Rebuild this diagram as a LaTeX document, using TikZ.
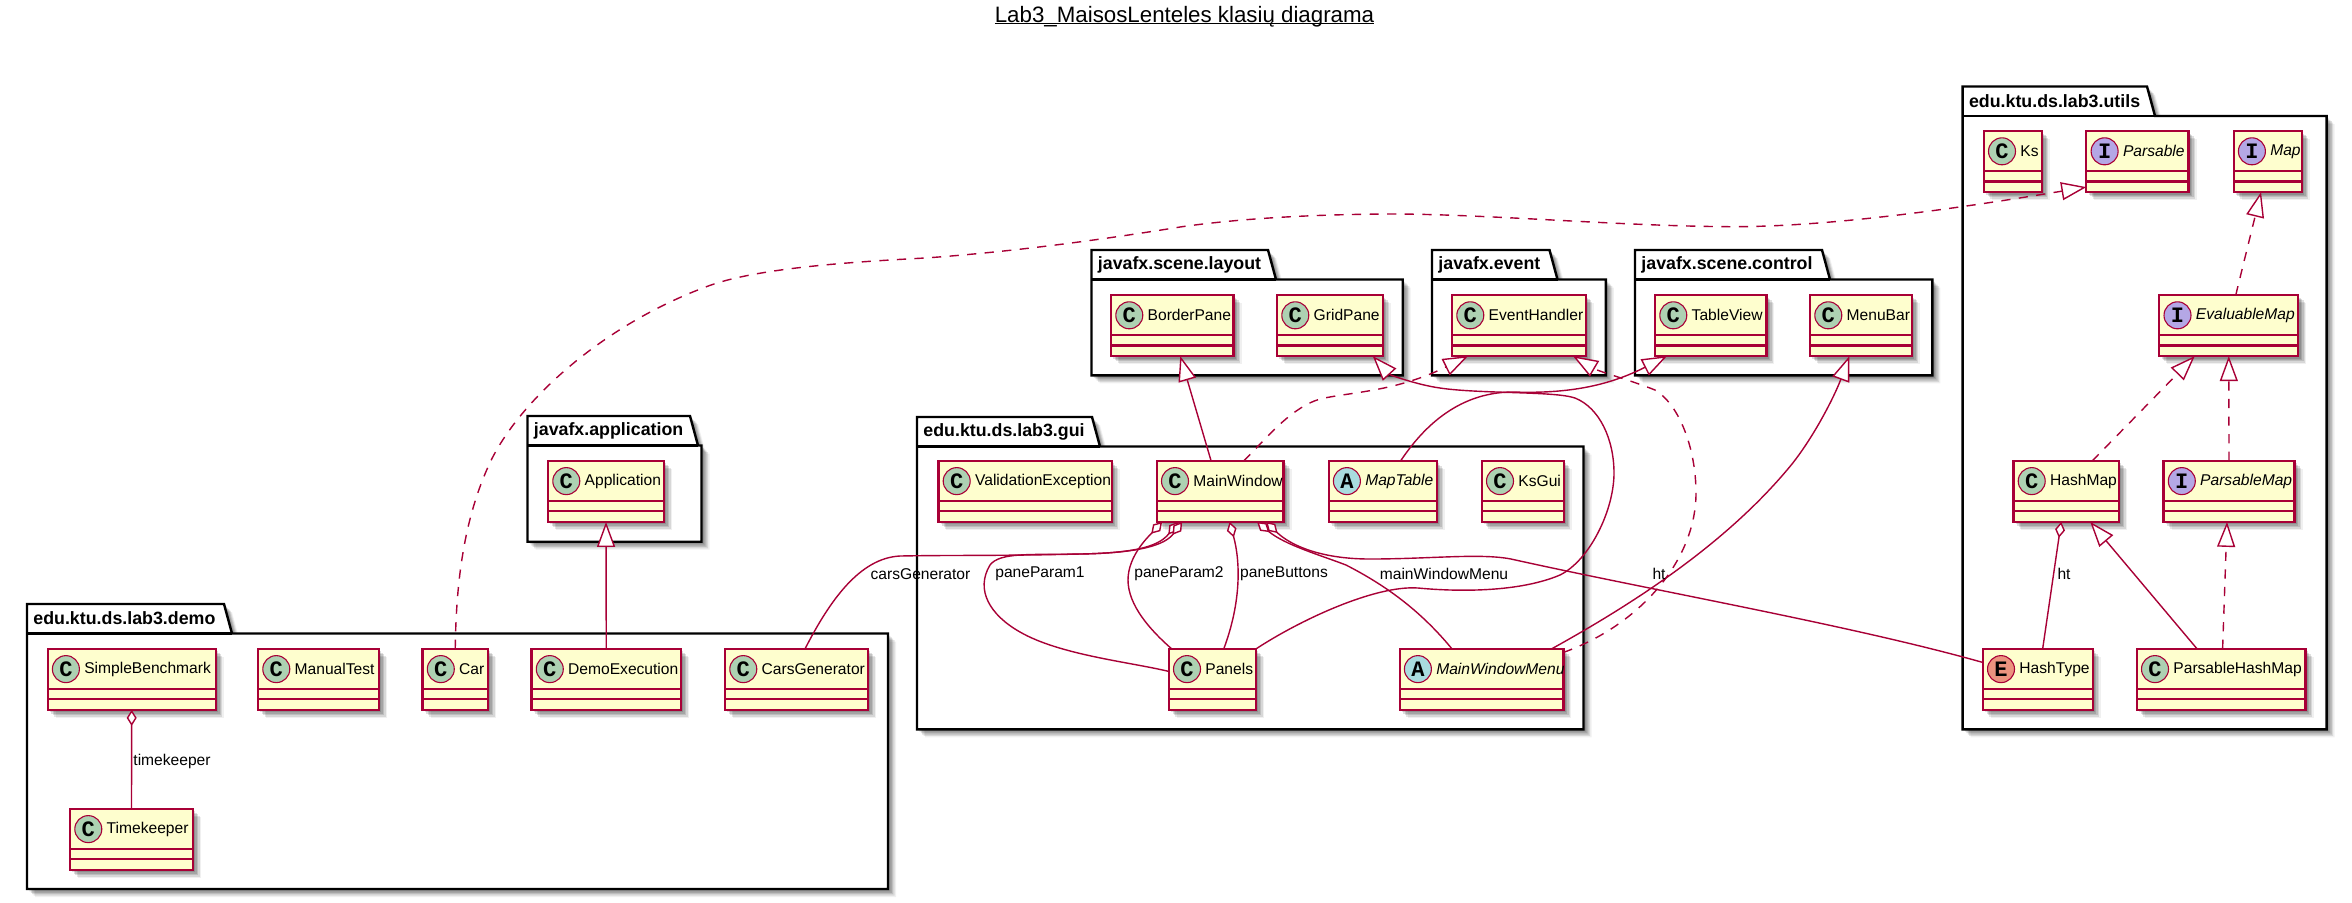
\documentclass[tikz,border=0pt]{standalone}
\usepackage{fontspec}
\setmainfont{Liberation Sans}
\newfontfamily\spotfont{Liberation Mono}
\usepackage{xcolor}
\usepackage{tikz}
\usetikzlibrary{arrows.meta, calc, shadows}
\definecolor{umlred}{HTML}{A80036}
\definecolor{umlfill}{HTML}{FEFECE}
\definecolor{spotgreen}{HTML}{ADD1B2}
\definecolor{spotpurple}{HTML}{B4A7E5}
\definecolor{spotblue}{HTML}{A9DCDF}
\definecolor{spotorange}{HTML}{EB937F}

\tikzset{
  softshadow/.style={
    general shadow={fill=black,opacity=.13,shadow xshift=1.2pt,shadow yshift=-1.2pt},
    general shadow={fill=black,opacity=.13,shadow xshift=1.9pt,shadow yshift=-1.9pt},
    general shadow={fill=black,opacity=.12,shadow xshift=2.6pt,shadow yshift=-2.6pt},
    general shadow={fill=black,opacity=.10,shadow xshift=3.3pt,shadow yshift=-3.3pt},
    general shadow={fill=black,opacity=.06,shadow xshift=4pt,shadow yshift=-4pt}},
  umlbox/.style={draw=umlred, fill=umlfill, line width=1.1pt, inner sep=0pt, outer sep=0pt,
                 minimum height=30.5pt, softshadow},
  umlbar/.style={draw=umlred, line width=1.1pt},
  umlpkg/.style={draw=black, fill=white, line width=1.2pt, softshadow},
  pkgbar/.style={draw=black, line width=1.2pt},
  pkgtext/.style={font=\bfseries\fontsize{8.9}{10}\selectfont, anchor=west, inner sep=0pt},
  classtext/.style={font=\fontsize{7.8}{9}\selectfont, anchor=west, inner sep=0pt},
  edgetext/.style={font=\fontsize{7.8}{9}\selectfont, inner sep=0pt},
  spotmark/.style={circle, draw=umlred, line width=.55pt, minimum size=13.5pt, inner sep=0pt,
                   font=\spotfont\bfseries\fontsize{11}{11}\selectfont},
  spot C/.style={fill=spotgreen},
  spot I/.style={fill=spotpurple},
  spot A/.style={fill=spotblue},
  spot E/.style={fill=spotorange},
  shape C/.style={},
  shape I/.style={font=\itshape\fontsize{7.8}{9}\selectfont},
  shape A/.style={font=\itshape\fontsize{7.8}{9}\selectfont},
  shape E/.style={},
  extendsline/.style={draw=umlred, line width=.7pt, -{Triangle[length=12.5pt,width=9pt,fill=white]}},
  implementsline/.style={extendsline, dash pattern=on 4.6pt off 4.2pt},
  ownsline/.style={draw=umlred, line width=.7pt, {Diamond[length=8pt,width=5pt,fill=white]}-},
}

\newcommand{\umlclass}[5]{
  \node[umlbox, minimum width={(#4-#3)*0.5pt}] (#2) at ({(#3+#4)/2},{#5+30.4}) {};
  \draw[umlbar] ($(#2.north west)+(0,40.2)$) -- ($(#2.north east)+(0,40.2)$);
  \draw[umlbar] ($(#2.north west)+(0,50.3)$) -- ($(#2.north east)+(0,50.3)$);
  \node[spotmark, spot #1] (#2spot) at ($(#2.north west)+(18.3,20.2)$) {#1};
  \node[classtext, shape #1] (#2text) at ($(#2.north west)+(36.3,20.2)$) {#2};
}
\newcommand{\umlpackage}[7]{
  \draw[umlpkg] (#2,{#4+29.5}) -- (#2,#4) -- (#6,#4) -- ({#6+8},{#4+29.5}) -- (#3,{#4+29.5})
    -- (#3,#5) -- (#2,#5) -- cycle;
  \draw[pkgbar] (#2,{#4+29.5}) -- ({#6+8},{#4+29.5});
  \node[pkgtext] (#1) at ({#2+6},{#4+14.5}) {#7};
}
\newcommand{\titleline}[1]{\sbox0{#1}\rlap{\rule[-1.1pt]{\wd0}{.65pt}}\box0}

\begin{document}
\begin{tikzpicture}[x=0.5pt, y=-0.5pt]
  \useasboundingbox (0,0) rectangle (2352,902);

  \node[font=\fontsize{11.15}{12}\selectfont, inner sep=0pt, anchor=base] (diagramtitle) at (1184.5,22)
    {\titleline{Lab3\_MaisosLenteles klasių diagrama}};

  \umlpackage{pkgdemo}{27}{888}{604}{889}{224}{edu.ktu.ds.lab3.demo}
  \umlpackage{pkgapplication}{527.5}{701.5}{416}{541.7}{690}{javafx.application}
  \umlpackage{pkglayout}{1091.5}{1402.7}{250}{375.4}{1268}{javafx.scene.layout}
  \umlpackage{pkgevent}{1432}{1605.8}{250}{375.4}{1549.5}{javafx.event}
  \umlpackage{pkgcontrol}{1635}{1932.4}{250}{375.4}{1822}{javafx.scene.control}
  \umlpackage{pkggui}{917}{1583.5}{417}{729.3}{1092}{edu.ktu.ds.lab3.gui}
  \umlpackage{pkgutils}{1962.6}{2326.6}{86.5}{729.3}{2147}{edu.ktu.ds.lab3.utils}

  \umlclass{C}{SimpleBenchmark}{47.6}{215.8}{649}
  \umlclass{C}{ManualTest}{258}{379}{649}
  \umlclass{C}{Car}{422.5}{488}{649}
  \umlclass{C}{DemoExecution}{531.5}{681}{649}
  \umlclass{C}{CarsGenerator}{725}{868}{649}
  \umlclass{C}{Timekeeper}{70}{193}{809}
  \umlclass{C}{Application}{548}{664}{461}

  \umlclass{C}{BorderPane}{1111}{1233.5}{295.2}
  \umlclass{C}{GridPane}{1277}{1382.6}{295.2}
  \umlclass{C}{EventHandler}{1452}{1585.7}{295.2}
  \umlclass{C}{TableView}{1655}{1766.4}{295.2}
  \umlclass{C}{MenuBar}{1810}{1911.8}{295.2}

  \umlclass{C}{ValidationException}{938.4}{1111.6}{461}
  \umlclass{C}{MainWindow}{1156.7}{1283.5}{461}
  \umlclass{A}{MapTable}{1328.6}{1436.6}{461}
  \umlclass{C}{KsGui}{1481.7}{1563.8}{461}
  \umlclass{C}{Panels}{1168.7}{1256}{649}
  \umlclass{A}{MainWindowMenu}{1399.6}{1563.4}{649}

  \umlclass{C}{Ks}{1983.7}{2041.7}{131.2}
  \umlclass{I}{Parsable}{2086.3}{2188.5}{131.2}
  \umlclass{I}{Map}{2233.6}{2301.7}{131.2}
  \umlclass{I}{EvaluableMap}{2159.2}{2298.3}{295.2}
  \umlclass{C}{HashMap}{2013.4}{2119}{461}
  \umlclass{I}{ParsableMap}{2163.5}{2294.5}{461}
  \umlclass{E}{HashType}{1982.7}{2092.6}{649}
  \umlclass{C}{ParsableHashMap}{2136.7}{2305.5}{649}

  \draw[extendsline] (DemoExecution.north) -- (Application.south);
  \draw[implementsline] (Car.north) .. controls (456,590) and (462,525) .. (488,467)
    .. controls (515,405) and (600,325) .. (711,285)
    .. controls (760,268) and (850,262) .. (925,258)
    .. controls (1010,252) and (1100,240) .. (1180,227)
    .. controls (1250,217) and (1330,214) .. (1400,214)
    .. controls (1500,215) and (1620,226) .. (1730,226.7)
    .. controls (1830,227) and (1960,208) .. ($(Parsable.south west)+(0,-5)$);
  \draw[ownsline] (SimpleBenchmark.south) -- (Timekeeper.north);

  \draw[extendsline] ($(MainWindow.north)+(-9,0)$) -- ($(BorderPane.south)+(8,0)$);
  \draw[extendsline] (Panels.north east) .. controls (1300,620) and (1375,585) .. (1418,588)
    .. controls (1460,592) and (1520,592) .. (1560,575)
    .. controls (1590,560) and (1614,510) .. (1614,473)
    .. controls (1614,440) and (1600,408) .. (1575,398)
    .. controls (1555,391) and (1480,394) .. (1440,388)
    .. controls (1418,385) and (1390,375) .. ($(GridPane.south)+(43,0)$);
  \draw[implementsline] ($(MainWindow.north)+(23.6,0)$) .. controls (1265,440) and (1290,408) .. (1320,399)
    .. controls (1350,392) and (1395,392) .. ($(EventHandler.south)+(-50.8,0)$);
  \draw[implementsline] ($(MainWindowMenu.east)+(0,-27)$) .. controls (1640,625) and (1696,560) .. (1696,493)
    .. controls (1696,450) and (1680,405) .. (1655,390)
    .. controls (1630,380) and (1600,372) .. ($(EventHandler.south)+(54.2,0)$);
  \draw[extendsline] ($(MapTable.north)+(18,0)$) .. controls (1420,432) and (1455,392) .. (1513,392)
    .. controls (1570,394) and (1610,385) .. ($(TableView.south)+(-43.7,0)$);
  \draw[extendsline] ($(MainWindowMenu.north)+(70,0)$) .. controls (1640,600) and (1730,540) .. (1792,464)
    .. controls (1815,435) and (1835,395) .. ($(MenuBar.south)+(-11.5,0)$);

  \draw[ownsline] ($(MainWindow.south)+(-58,0)$) .. controls (1150,535) and (1128,555) .. (1128,580)
    .. controls (1128,605) and (1150,630) .. ($(Panels.north)+(-40.6,0)$);
  \draw[ownsline] ($(MainWindow.south)+(-42,0)$) .. controls (1160,545) and (1140,553) .. (1080,554)
    .. controls (1030,555) and (1000,552) .. (990,565)
    .. controls (975,590) and (990,615) .. (1020,632)
    .. controls (1060,655) and (1130,662) .. ($(Panels.west)+(0,-8)$);
  \draw[ownsline] ($(MainWindow.south)+(-38,0)$) .. controls (1165,545) and (1140,553) .. (1080,554)
    .. controls (1000,556) and (950,555) .. (900,556)
    .. controls (860,558) and (830,600) .. ($(CarsGenerator.north)+(8.5,0)$);
  \draw[ownsline] ($(MainWindow.south)+(9.5,0)$) .. controls (1240,560) and (1242,600) .. ($(Panels.north)+(11.4,0)$);
  \draw[ownsline] ($(MainWindow.south)+(37,0)$) .. controls (1285,545) and (1320,555) .. (1346,565)
    .. controls (1385,585) and (1420,610) .. ($(MainWindowMenu.north)+(-29.5,0)$);
  \draw[ownsline] ($(MainWindow.south)+(46,0)$) .. controls (1290,545) and (1320,559) .. (1370,559)
    .. controls (1430,559) and (1480,553) .. (1511,559)
    .. controls (1650,590) and (1850,625) .. ($(HashType.west)+(0,-17)$);

  \draw[implementsline] ($(EvaluableMap.north)+(7,0)$) -- ($(Map.south)+(-6.6,0)$);
  \draw[implementsline] ($(HashMap.north)+(26,0)$) -- ($(EvaluableMap.south)+(-34,0)$);
  \draw[implementsline] (ParsableMap.north) -- (EvaluableMap.south);
  \draw[extendsline] ($(ParsableHashMap.north)+(-24,0)$) -- ($(HashMap.south)+(24,0)$);
  \draw[implementsline] ($(ParsableHashMap.north)+(1.5,0)$) -- ($(ParsableMap.south)+(-2,0)$);
  \draw[ownsline] ($(HashMap.south)+(-5,0)$) -- ($(HashType.north)+(5,0)$);

  \node[edgetext] (lbltimekeeper) at (172,761.7) {timekeeper};
  \node[edgetext] (lblcars) at (920.5,574) {carsGenerator};
  \node[edgetext] (lblparam1) at (1040,574) {paneParam1};
  \node[edgetext] (lblparam2) at (1179,574) {paneParam2};
  \node[edgetext] (lblbuttons) at (1284,574) {paneButtons};
  \node[edgetext] (lblmenu) at (1444,574) {mainWindowMenu};
  \node[edgetext] (lblhtleft) at (1659,574) {ht};
  \node[edgetext] (lblhtright) at (2064,574) {ht};
\end{tikzpicture}
\end{document}
